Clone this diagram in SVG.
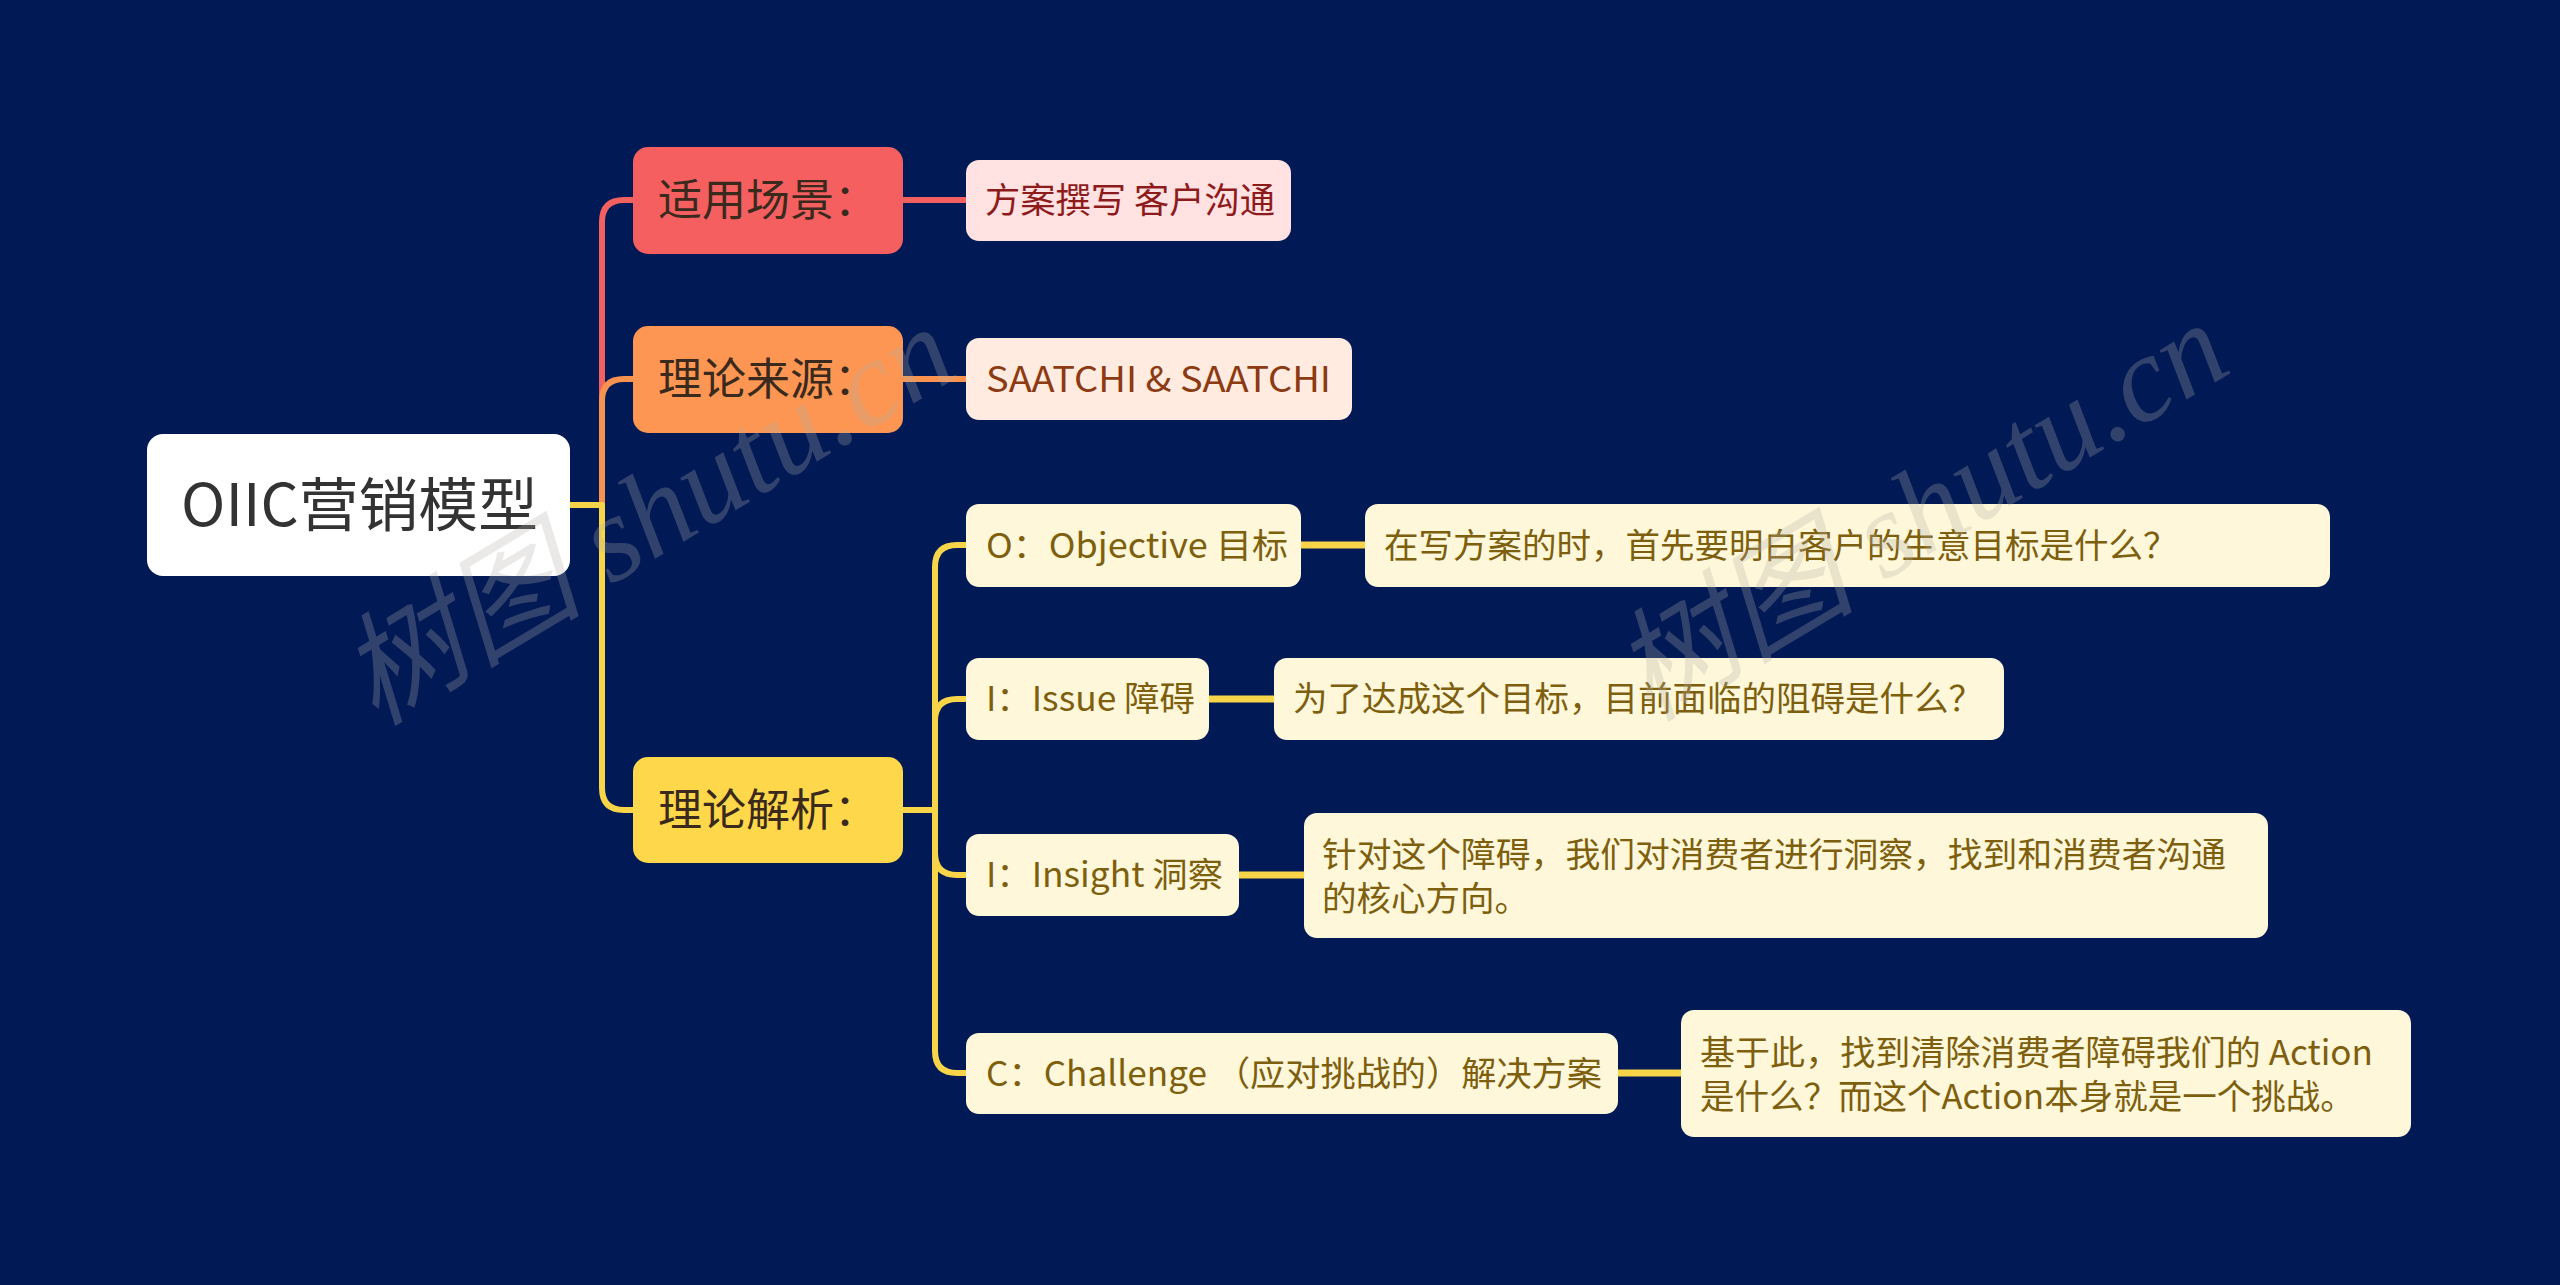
<svg xmlns="http://www.w3.org/2000/svg" width="2560" height="1285" viewBox="0 0 2560 1285">
<style>
text{font-family:"Noto Sans CJK SC","Noto Sans",sans-serif;}
.root rect{fill:#ffffff;}
.root text{font-size:58px;fill:#333333;}
.l1 text{font-size:44px;fill:#3a2a1e;}
.l2 text{font-size:34.5px;fill:#7d5f0e;}
.c{fill:none;stroke-linecap:butt;stroke-linejoin:round;}
.red{stroke:#f2605f;stroke-width:6;}
.ora{stroke:#f8934f;stroke-width:6;}
.yel{stroke:#f8d448;stroke-width:6;}
.leaf{stroke-width:7;}
.wm{font-family:"Liberation Serif","Noto Sans CJK SC",serif;font-style:italic;font-size:122px;fill:#b4b0a8;opacity:0.27;}
</style>
<rect width="2560" height="1285" fill="#011a56"/>
<g id="connectors">
<path class="c red" d="M570,505 H602 V222 Q602,200 624,200 H633"/>
<path class="c ora" d="M570,505 H602 V401 Q602,379 624,379 H633"/>
<path class="c yel" d="M570,505 H602 V788 Q602,810 624,810 H633"/>
<path class="c red" d="M903,200 H966"/>
<path class="c ora" d="M903,379 H966"/>
<path class="c yel" d="M903,810 H935 V567 Q935,545 957,545 H966"/>
<path class="c yel" d="M935,810 V721 Q935,699 957,699 H966"/>
<path class="c yel" d="M935,810 V853 Q935,875 957,875 H966"/>
<path class="c yel" d="M935,810 V1051 Q935,1073 957,1073 H966"/>
<path class="c yel leaf" d="M1301,545 H1365"/>
<path class="c yel leaf" d="M1209,699 H1274"/>
<path class="c yel leaf" d="M1239,875 H1304"/>
<path class="c yel leaf" d="M1618,1073 H1681"/>
</g>
<g id="root" class="root">
<rect x="147" y="434" width="423" height="142" rx="16"/>
<text x="181" y="526" textLength="357" lengthAdjust="spacingAndGlyphs">OIIC营销模型</text>
</g>
<g id="n-scene" class="l1">
<rect x="633" y="147" width="270" height="107" rx="15" fill="#f55f5f"/>
<text x="658" y="216">适用场景：</text>
</g>
<g id="n-source" class="l1">
<rect x="633" y="326" width="270" height="107" rx="15" fill="#fc9652"/>
<text x="658" y="395">理论来源：</text>
</g>
<g id="n-analysis" class="l1">
<rect x="633" y="757" width="270" height="106" rx="15" fill="#fed74b"/>
<text x="658" y="826">理论解析：</text>
</g>
<g id="n-scene-d" class="l2">
<rect x="966" y="160" width="325" height="81" rx="13" fill="#ffe2e1"/>
<text x="985" y="213" style="fill:#8e1b1b;font-size:35px" textLength="290" lengthAdjust="spacingAndGlyphs">方案撰写 客户沟通</text>
</g>
<g id="n-source-d" class="l2">
<rect x="966" y="338" width="386" height="82" rx="13" fill="#ffebdf"/>
<text x="986" y="392" style="fill:#8b3a12;font-size:35px" textLength="345" lengthAdjust="spacingAndGlyphs">SAATCHI &amp; SAATCHI</text>
</g>
<g id="n-o" class="l2">
<rect x="966" y="504" width="335" height="83" rx="13" fill="#fef7da"/>
<text x="986" y="558" textLength="302" lengthAdjust="spacingAndGlyphs">O：Objective 目标</text>
</g>
<g id="n-o-d" class="l2">
<rect x="1365" y="504" width="965" height="83" rx="13" fill="#fef7da"/>
<text x="1384" y="558">在写方案的时，首先要明白客户的生意目标是什么？</text>
</g>
<g id="n-i1" class="l2">
<rect x="966" y="658" width="243" height="82" rx="13" fill="#fef7da"/>
<text x="986" y="711" textLength="209" lengthAdjust="spacingAndGlyphs">I：Issue 障碍</text>
</g>
<g id="n-i1-d" class="l2">
<rect x="1274" y="658" width="730" height="82" rx="13" fill="#fef7da"/>
<text x="1293" y="711">为了达成这个目标，目前面临的阻碍是什么？</text>
</g>
<g id="n-i2" class="l2">
<rect x="966" y="834" width="273" height="82" rx="13" fill="#fef7da"/>
<text x="986" y="887" textLength="237" lengthAdjust="spacingAndGlyphs">I：Insight 洞察</text>
</g>
<g id="n-i2-d" class="l2">
<rect x="1304" y="813" width="964" height="125" rx="13" fill="#fef7da"/>
<text x="1322" y="867" textLength="904" lengthAdjust="spacingAndGlyphs">针对这个障碍，我们对消费者进行洞察，找到和消费者沟通</text>
<text x="1322" y="911">的核心方向。</text>
</g>
<g id="n-c" class="l2">
<rect x="966" y="1033" width="652" height="81" rx="13" fill="#fef7da"/>
<text x="986" y="1086" textLength="616" lengthAdjust="spacingAndGlyphs">C：Challenge （应对挑战的）解决方案</text>
</g>
<g id="n-c-d" class="l2">
<rect x="1681" y="1010" width="730" height="127" rx="13" fill="#fef7da"/>
<text x="1700" y="1065" textLength="673" lengthAdjust="spacingAndGlyphs">基于此，找到清除消费者障碍我们的 Action</text>
<text x="1700" y="1109">是什么？而这个Action本身就是一个挑战。</text>
</g>
<g id="watermark">
<text class="wm" x="649" y="556" text-anchor="middle" transform="rotate(-31 649 518)">树图 shutu.cn</text>
<text class="wm" x="1922" y="552" text-anchor="middle" transform="rotate(-31 1922 514)">树图 shutu.cn</text>
</g>
</svg>
